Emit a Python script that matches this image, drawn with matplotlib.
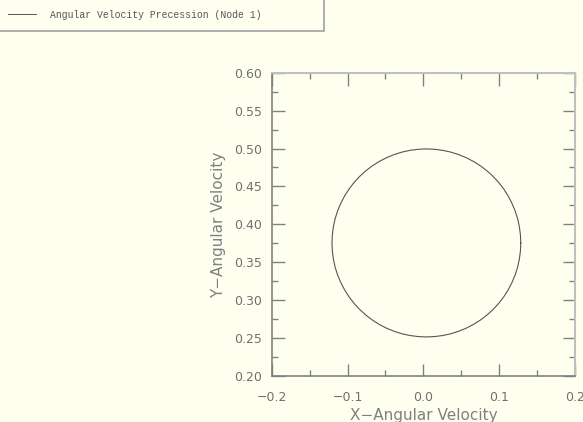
import matplotlib
matplotlib.use("Agg")
from matplotlib import pyplot as plt
from matplotlib.patches import Rectangle
from matplotlib.ticker import MultipleLocator, FuncFormatter
from matplotlib.lines import Line2D

# Angular velocity precession samples (node 1)
x_vel = [0.1285, 0.1280, 0.1266, 0.1243, 0.1210, 0.1168, 0.1118, 0.1060, 0.0994,
         0.0920, 0.0840, 0.0754, 0.0662, 0.0566, 0.0466, 0.0362, 0.0256, 0.0149,
         0.0040, -0.0069, -0.0176, -0.0282, -0.0386, -0.0486, -0.0583, -0.0674,
         -0.0760, -0.0840, -0.0914, -0.0980, -0.1038, -0.1088, -0.1130, -0.1163,
         -0.1186, -0.1200, -0.1205, -0.1200, -0.1186, -0.1163, -0.1130, -0.1088,
         -0.1038, -0.0980, -0.0914, -0.0840, -0.0760, -0.0674, -0.0583, -0.0486,
         -0.0386, -0.0282, -0.0176, -0.0069, 0.0040, 0.0149, 0.0256, 0.0362,
         0.0466, 0.0566, 0.0662, 0.0754, 0.0840, 0.0920, 0.0994, 0.1060, 0.1118,
         0.1168, 0.1210, 0.1243, 0.1266, 0.1280, 0.1285]
y_vel = [0.3755, 0.3863, 0.3970, 0.4076, 0.4179, 0.4279, 0.4375, 0.4466, 0.4552,
         0.4632, 0.4705, 0.4771, 0.4829, 0.4879, 0.4920, 0.4953, 0.4976, 0.4990,
         0.4995, 0.4990, 0.4976, 0.4953, 0.4920, 0.4879, 0.4829, 0.4771, 0.4705,
         0.4632, 0.4552, 0.4466, 0.4375, 0.4279, 0.4179, 0.4076, 0.3970, 0.3863,
         0.3755, 0.3647, 0.3540, 0.3434, 0.3331, 0.3231, 0.3135, 0.3044, 0.2958,
         0.2878, 0.2805, 0.2739, 0.2681, 0.2631, 0.2590, 0.2557, 0.2534, 0.2520,
         0.2515, 0.2520, 0.2534, 0.2557, 0.2590, 0.2631, 0.2681, 0.2739, 0.2805,
         0.2878, 0.2958, 0.3044, 0.3135, 0.3231, 0.3331, 0.3434, 0.3540, 0.3647,
         0.3755]
legend_label = "Angular Velocity Precession (Node 1)"

bg = "#fffff0"
dark = "#808080"
light = "#c0c0c0"

fig = plt.figure(figsize=(5.83, 4.22), dpi=100, facecolor=bg)
ax = fig.add_axes([0.466, 0.109, 0.5203, 0.7187], facecolor=bg)

ax.plot(x_vel, y_vel, color="#555555", linewidth=0.8)

ax.set_xlim(-0.2, 0.2)
ax.set_ylim(0.2, 0.6)
ax.xaxis.set_major_locator(MultipleLocator(0.1))
ax.xaxis.set_minor_locator(MultipleLocator(0.05))
ax.yaxis.set_major_locator(MultipleLocator(0.05))
ax.yaxis.set_minor_locator(MultipleLocator(0.025))
ax.xaxis.set_major_formatter(FuncFormatter(lambda v, p: ("%.1f" % v).replace("-", "\u2212")))
ax.yaxis.set_major_formatter(FuncFormatter(lambda v, p: "%.2f" % v))

ax.tick_params(which="both", direction="in", top=True, right=True, color=dark,
               labelcolor="#707070", labelsize=9)
ax.tick_params(which="major", length=9, width=1)
ax.tick_params(which="minor", length=4.5, width=1)
ax.tick_params(axis="x", which="major", pad=11)
ax.tick_params(axis="y", which="major", pad=7)

for side in ["left", "bottom"]:
    ax.spines[side].set_color(dark)
    ax.spines[side].set_linewidth(1.2)
for side in ["top", "right"]:
    ax.spines[side].set_color(light)
    ax.spines[side].set_linewidth(1.5)

ax.set_xlabel("X\u2212Angular Velocity", fontsize=11, color=dark, labelpad=3)
ax.set_ylabel("Y\u2212Angular Velocity", fontsize=11, color=dark, labelpad=6)

# Legend box in the top-left corner
box = Rectangle((-0.01, 1 - 31 / 422), 324 / 583 + 0.01, 31 / 422 + 0.01,
                transform=fig.transFigure, facecolor=bg, edgecolor="#a0a0a0",
                linewidth=1.2, clip_on=False)
fig.patches.append(box)
fig.lines.append(Line2D([8 / 583, 36 / 583], [1 - 14 / 422, 1 - 14 / 422],
                        transform=fig.transFigure, color="#555555", linewidth=0.7))
fig.text(50 / 583, 1 - 15 / 422, legend_label, fontsize=7,
         family="Liberation Mono", color="#555555", va="center", ha="left")

plt.savefig("out.png", dpi=100, facecolor=bg)
